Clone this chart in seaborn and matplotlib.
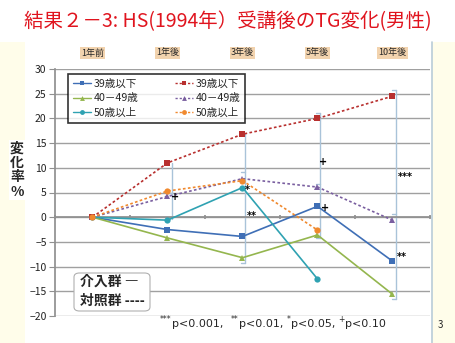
import numpy as np
import pandas as pd
import matplotlib
matplotlib.use('Agg')
import matplotlib.pyplot as plt
import seaborn as sns
from matplotlib.patches import Rectangle, FancyBboxPatch
from matplotlib.lines import Line2D
from matplotlib.transforms import blended_transform_factory

# ---------------- data ----------------
periods = ['1年前', '1年後', '3年後', '5年後', '10年後']
int_39 = [0, -2.5, -3.9, 2.2, -8.9]
ctl_39 = [0, 11.0, 16.8, 20.0, 24.5]
int_40 = [0, -4.2, -8.2, -3.6, -15.6]
ctl_40 = [0, 4.2, 7.8, 6.1, -0.6]
int_50 = [0, -0.6, 6.0, -12.5, np.nan]
ctl_50 = [0, 5.3, 7.4, -2.6, np.nan]

series_keys = ['i39', 'i40', 'i50', 'c39', 'c40', 'c50']
series_labels = ['39歳以下', '40－49歳', '50歳以上', '39歳以下', '40－49歳', '50歳以上']
series_vals = [int_39, int_40, int_50, ctl_39, ctl_40, ctl_50]
series_colors = ['#3f6fb6', '#94b64e', '#2fa2b2', '#b8302f', '#7a5fa0', '#f0892e']
series_markers = ['s', '^', 'o', 's', '^', 'o']

# significance marks (label, x position, y value)
sig_labels = ['+', '*', '**', '+', '+', '***', '**']
sig_x = [1.1, 2.07, 2.13, 3.08, 3.1, 4.17, 4.13]
sig_y = [4.0, 5.6, 0.2, 11.1, 1.8, 8.1, -8.1]

# comparison brackets (x position, top, bottom)
br_x = [1.06, 2.04, 3.04, 4.05]
br_top = [11.0, 16.8, 21.0, 25.7]
br_bot = [-0.3, -9.3, -4.3, -16.6]
hook_x = [2.04, 2.04, 3.04, 3.04, 3.04, 4.05, 4.05, 4.05, 2.04, 1.06]
hook_y = [9.1, -9.3, 21.0, 6.8, -4.3, 25.7, -16.6, 0.6, 16.8, 4.8]

# footnote pieces (superscript, text)
foot_sup = ['***', '**', '*', '+']
foot_txt = ['p<0.001,  ', 'p<0.01, ', 'p<0.05, ', 'p<0.10']

# ---------------- build long table ----------------
rows = []
for k, vals in zip(series_keys, series_vals):
    for i, v in enumerate(vals):
        rows.append({'series': k, 'xi': i, 'val': v})
df = pd.DataFrame(rows).dropna()

sns.set_theme(style='white')
plt.rcParams['font.family'] = ['Noto Sans CJK JP', 'DejaVu Sans']

W, H = 456, 343
fig = plt.figure(figsize=(W / 100, H / 100), dpi=100)
fig.patch.set_facecolor('#fffdea')
fig.add_artist(Rectangle((0, 1 - 42 / H), 1, 42 / H, transform=fig.transFigure,
                         facecolor='white', edgecolor='none', zorder=0))
fig.add_artist(Rectangle((25 / W, 0), (432 - 25) / W, 1 - 42 / H, transform=fig.transFigure,
                         facecolor='white', edgecolor='none', zorder=0))
fig.add_artist(Line2D([432 / W, 432 / W], [0, 1 - 42 / H], transform=fig.transFigure,
                      color='#b9ccd8', lw=1.2))

ax = fig.add_axes([55 / W, 1 - 316 / H, (430 - 55) / W, (316 - 69) / H])
ax.set_facecolor('none')

palette = dict(zip(series_keys, series_colors))
markers = dict(zip(series_keys, series_markers))
dashes = {k: ('' if k.startswith('i') else (1.6, 1.4)) for k in series_keys}
sns.lineplot(data=df, x='xi', y='val', hue='series', style='series',
             hue_order=series_keys, style_order=series_keys,
             palette=palette, markers=markers, dashes=dashes,
             markersize=4.5, markeredgewidth=0, linewidth=1.2,
             ax=ax, legend=False, zorder=3)

ax.set_xlim(-0.5, 4.5)
ax.set_ylim(-20, 30)
ax.set_yticks(np.arange(-20, 31, 5))
ax.yaxis.grid(True, color='#a0a0a0', lw=1.0)
ax.set_axisbelow(True)
ax.tick_params(axis='y', labelsize=7.5, length=4, width=0.8, color='#909090',
               left=True, pad=2, labelcolor='#222222')
ax.set_xlabel('')
ax.set_ylabel('')
for s in ['top', 'right']:
    ax.spines[s].set_visible(False)
ax.spines['left'].set_color('#909090')
ax.spines['bottom'].set_position(('data', 0))
ax.spines['bottom'].set_color('#909090')
ax.set_xticks(np.arange(-0.5, 4.6, 1.0))
ax.set_xticklabels([])
ax.tick_params(axis='x', direction='inout', length=3, color='#909090', bottom=True)

# brackets
bc = '#a9c3d9'
for x, t, b in zip(br_x, br_top, br_bot):
    ax.plot([x, x], [b, t], color=bc, lw=1.0, zorder=2)
for x, y in zip(hook_x, hook_y):
    ax.plot([x - 0.06, x], [y, y], color=bc, lw=1.0, zorder=2)

# significance marks
for lab, x, y in zip(sig_labels, sig_x, sig_y):
    ax.text(x, y, lab, fontsize=7, fontweight='bold', color='black',
            ha='center', va='center', family=['DejaVu Sans'], zorder=4)

# period labels on top
tr = blended_transform_factory(ax.transData, fig.transFigure)
for i, p in enumerate(periods):
    ax.text(i, 1 - 53 / H, p, transform=tr, fontsize=6.5, ha='center', va='center',
            bbox=dict(boxstyle='square,pad=0.15', facecolor='#f2d3ae', edgecolor='none'))

# series legend
handles = [Line2D([0], [0], color=c, marker=m, markersize=3.5, markeredgewidth=0,
                  lw=1.0, ls='-' if k.startswith('i') else (0, (1.6, 1.4)))
           for k, c, m in zip(series_keys, series_colors, series_markers)]
leg = ax.legend(handles, series_labels, ncol=2, loc='upper left',
                bbox_to_anchor=((68 - 55) / (430 - 55), 1 - (74 - 69) / (316 - 69)),
                fontsize=7.6, frameon=True, fancybox=False, handlelength=1.7,
                columnspacing=3.5, labelspacing=0.42, borderpad=0.45, handletextpad=0.25,
                borderaxespad=0)
leg.get_frame().set_edgecolor('black')
leg.get_frame().set_linewidth(1.2)

# group legend box
fig.add_artist(FancyBboxPatch((74 / W, 1 - 311 / H), 76 / W, 38 / H,
                              boxstyle='round,pad=0,rounding_size=0.012',
                              transform=fig.transFigure, facecolor='white',
                              edgecolor='#b0b0b0', lw=0.8, zorder=5))
fig.text(80 / W, 1 - 282 / H, '介入群 ―', fontsize=10, ha='left', va='center', zorder=6,
         fontweight='bold')
fig.text(80 / W, 1 - 301 / H, '対照群 ----', fontsize=10, ha='left', va='center', zorder=6,
         fontweight='bold')

# title
fig.text(228 / W, 1 - 22 / H, '結果２－3: HS(1994年）受講後のTG変化(男性)',
         fontsize=14, color='#e0141e', ha='center', va='center')

# y label
fig.text(17 / W, 1 - 170 / H, '変\n化\n率\n%', fontsize=10, ha='center', va='center',
         linespacing=1.05, fontweight='bold',
         bbox=dict(boxstyle='square,pad=0.1', facecolor='white', edgecolor='none'))

# footnote, built from chained pieces
prev = fig.text(160 / W, 1 - 329 / H, '', fontsize=8, ha='left', va='baseline',
                family=['DejaVu Sans'])
for sup, txt in zip(foot_sup, foot_txt):
    s = plt.annotate(sup, xy=(1, 0), xycoords=prev, xytext=(0, 3.5),
                     textcoords='offset points', fontsize=5.5, ha='left', va='bottom',
                     family=['DejaVu Sans'], annotation_clip=False)
    prev = plt.annotate(txt, xy=(1, 0), xycoords=s, xytext=(0.3, -3.5),
                        textcoords='offset points', fontsize=8, ha='left', va='bottom',
                        family=['DejaVu Sans'], annotation_clip=False)
fig.text(440 / W, 1 - 325 / H, '3', fontsize=7, ha='center', va='center')

fig.savefig('out.png', dpi=100, facecolor=fig.get_facecolor())
